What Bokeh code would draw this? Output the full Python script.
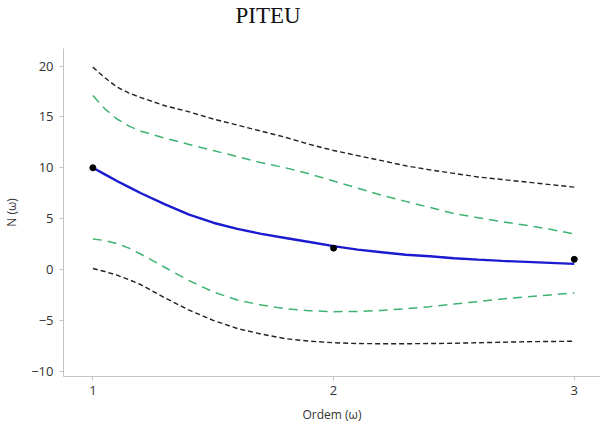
from bokeh.plotting import figure
from bokeh.models import ColumnDataSource, Range1d, FixedTicker, Title
from bokeh.embed import file_html
from bokeh.resources import INLINE

# Observed values
obs_x = [1, 2, 3]
obs_y = [10.0, 2.1, 1.0]

# Fitted curve and bands, sampled along the order axis
grid_x = [1.0, 1.05, 1.1, 1.15, 1.2, 1.3, 1.4, 1.5, 1.6, 1.7, 1.8, 1.9, 2.0,
          2.1, 2.2, 2.3, 2.4, 2.5, 2.6, 2.7, 2.8, 2.9, 3.0]
fit_y = [10.0, 9.35, 8.7, 8.1, 7.5, 6.4, 5.4, 4.6, 4.0, 3.5, 3.1, 2.7, 2.3,
         1.95, 1.7, 1.45, 1.3, 1.1, 0.97, 0.85, 0.75, 0.65, 0.55]
ci_upper = [17.1, 15.8, 14.8, 14.1, 13.6, 12.9, 12.3, 11.7, 11.1, 10.5, 10.0, 9.4, 8.7,
            8.0, 7.3, 6.7, 6.1, 5.5, 5.1, 4.7, 4.35, 3.95, 3.5]
ci_lower = [3.0, 2.85, 2.55, 2.1, 1.5, 0.2, -1.1, -2.2, -3.0, -3.5, -3.85, -4.05, -4.15,
            -4.12, -4.03, -3.85, -3.65, -3.4, -3.15, -2.9, -2.7, -2.5, -2.3]
pi_upper = [19.9, 18.85, 17.95, 17.35, 16.9, 16.1, 15.5, 14.8, 14.2, 13.6, 13.0, 12.3, 11.7,
            11.2, 10.7, 10.2, 9.8, 9.45, 9.1, 8.85, 8.6, 8.35, 8.1]
pi_lower = [0.1, -0.2, -0.55, -1.0, -1.5, -2.8, -4.0, -5.0, -5.8, -6.35, -6.8, -7.05, -7.2,
            -7.28, -7.3, -7.3, -7.28, -7.25, -7.2, -7.15, -7.1, -7.08, -7.05]

x_ticks = [1, 2, 3]
y_ticks = [-10, -5, 0, 5, 10, 15, 20]
title_text = "PITEU"

curves = ColumnDataSource(dict(x=grid_x, fit=fit_y, ciu=ci_upper, cil=ci_lower,
                               piu=pi_upper, pil=pi_lower))
points = ColumnDataSource(dict(x=obs_x, y=obs_y))

p = figure(width=600, height=429, output_backend="svg", toolbar_location=None,
           title=None,
           x_range=Range1d(0.878, 3.109), y_range=Range1d(-10.52, 21.73),
           min_border_left=63, min_border_right=0, min_border_top=48,
           min_border_bottom=53)

# blank band between the heading and the plot area, then the heading itself
p.add_layout(Title(text=" ", text_font_size="17px", standoff=0), "above")
p.add_layout(Title(text=title_text, text_font="Liberation Serif",
                   text_font_style="normal", text_font_size="23px",
                   text_color="#111111", align="left", offset=172, standoff=0),
             "above")

p.outline_line_color = None
p.xgrid.grid_line_color = None
p.ygrid.grid_line_color = None
p.background_fill_color = "white"

# prediction band
p.line("x", "piu", source=curves, line_color="#222222", line_width=1.4, line_dash="5 3")
p.line("x", "pil", source=curves, line_color="#222222", line_width=1.4, line_dash="5 3")
# confidence band
p.line("x", "ciu", source=curves, line_color="#3cb371", line_width=1.5, line_dash="9 6")
p.line("x", "cil", source=curves, line_color="#3cb371", line_width=1.5, line_dash="9 6")
# fitted curve
p.line("x", "fit", source=curves, line_color="#1a1ad0", line_width=2.4)
p.scatter("x", "y", source=points, size=6, color="black")

for ax in (p.xaxis[0], p.yaxis[0]):
    ax.axis_line_color = "#c4c4c4"
    ax.major_tick_line_color = "#c4c4c4"
    ax.major_tick_out = 4
    ax.major_tick_in = 0
    ax.minor_tick_line_color = None
    ax.major_label_text_font = "Open Sans"
    ax.major_label_text_font_size = "13px"
    ax.major_label_text_color = "#333333"
    ax.axis_label_text_font = "Open Sans"
    ax.axis_label_text_font_size = "12px"
    ax.axis_label_text_font_style = "normal"
    ax.axis_label_text_color = "#333333"

p.xaxis.ticker = FixedTicker(ticks=x_ticks)
p.yaxis.ticker = FixedTicker(ticks=y_ticks)
p.xaxis.axis_label = "Ordem (ω)"
p.yaxis.axis_label = "N (ω)"
p.xaxis.major_label_standoff = 5
p.yaxis.major_label_standoff = 6
p.xaxis.axis_label_standoff = 8
p.yaxis.axis_label_standoff = 8

open("out.html", "w").write(file_html(p, INLINE))
